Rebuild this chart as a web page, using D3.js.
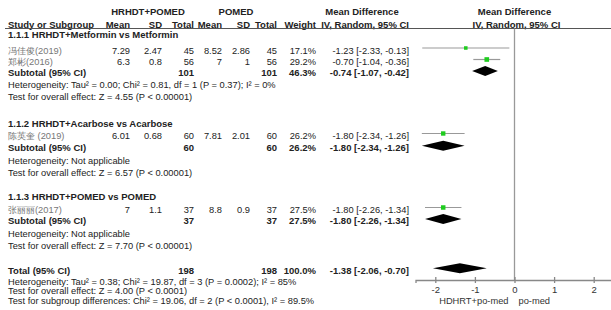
<!DOCTYPE html>
<html>
<head>
<meta charset="utf-8">
<script src="https://cdn.jsdelivr.net/npm/d3@7/dist/d3.min.js"></script>
<style>
body { margin: 0; background: #fff; }
text { font-family: "Liberation Sans", Arial, sans-serif; font-size: 9.3px; fill: #222; }
</style>
</head>
<body>
<svg id="chart" width="611" height="310"></svg>
<script>
// study level data
var studyNames = ["冯佳俊(2019)", "郑彬(2016)", "陈英奎 (2019)", "张丽丽(2017)"];
var expMean = [7.29, 6.3, 6.01, 7];
var expSD = [2.47, 0.8, 0.68, 1.1];
var expN = [45, 56, 60, 37];
var ctlMean = [8.52, 7, 7.81, 8.8];
var ctlSD = [2.86, 1, 2.01, 0.9];
var ctlN = [45, 56, 60, 37];
var weights = [17.1, 29.2, 26.2, 27.5];
var md = [-1.23, -0.70, -1.80, -1.80];
var mdLo = [-2.33, -1.04, -2.34, -2.26];
var mdHi = [-0.13, -0.36, -1.26, -1.34];

// subgroups
var groupTitles = ["1.1.1 HRHDT+Metformin vs Metformin", "1.1.2 HRHDT+Acarbose vs Acarbose", "1.1.3 HRHDT+POMED vs POMED"];
var subExpN = [101, 60, 37];
var subCtlN = [101, 60, 37];
var subWeight = [46.3, 26.2, 27.5];
var subMD = [-0.74, -1.80, -1.80];
var subLo = [-1.07, -2.34, -2.26];
var subHi = [-0.42, -1.26, -1.34];
var hetTexts = ["Heterogeneity: Tau² = 0.00; Chi² = 0.81, df = 1 (P = 0.37); I² = 0%", "Heterogeneity: Not applicable", "Heterogeneity: Not applicable"];
var effTexts = ["Test for overall effect: Z = 4.55 (P < 0.00001)", "Test for overall effect: Z = 6.57 (P < 0.00001)", "Test for overall effect: Z = 7.70 (P < 0.00001)"];

// overall
var totalExpN = 198, totalCtlN = 198, totalWeight = 100.0;
var totalMD = -1.38, totalLo = -2.06, totalHi = -0.70;
var totalTexts = ["Heterogeneity: Tau² = 0.38; Chi² = 19.87, df = 3 (P = 0.0002); I² = 85%",
                  "Test for overall effect: Z = 4.00 (P < 0.0001)",
                  "Test for subgroup differences: Chi² = 19.06, df = 2 (P < 0.0001), I² = 89.5%"];

var tickValues = [-2, -1, 0, 1, 2];
var favourLabels = ["HDHRT+po-med", "po-med"];

// row layout (text centre y)
var lines = [
    {t: "group", g: 0, y: 35},
    {t: "study", i: 0, y: 50.5},
    {t: "study", i: 1, y: 62},
    {t: "sub", g: 0, y: 73},
    {t: "note", s: hetTexts[0], y: 85},
    {t: "note", s: effTexts[0], y: 96.7},
    {t: "group", g: 1, y: 123.3},
    {t: "study", i: 2, y: 136},
    {t: "sub", g: 1, y: 147.7},
    {t: "note", s: hetTexts[1], y: 161},
    {t: "note", s: effTexts[1], y: 172.7},
    {t: "group", g: 2, y: 196.7},
    {t: "study", i: 3, y: 210},
    {t: "sub", g: 2, y: 221},
    {t: "note", s: hetTexts[2], y: 234},
    {t: "note", s: effTexts[2], y: 245.7},
    {t: "total", y: 270.7},
    {t: "note", s: totalTexts[0], y: 281.7},
    {t: "note", s: totalTexts[1], y: 291},
    {t: "note", s: totalTexts[2], y: 300.5}
];

var col = {name: 8, eMean: 130, eSD: 162, eN: 194, cMean: 222, cSD: 250, cN: 277, w: 316, ci: 409};

var svg = d3.select("#chart");
var x = d3.scaleLinear().domain([-2.5, 2.5]).range([415.5, 613.5]);
var size = d3.scaleSqrt().domain([0, 30]).range([0, 4.7]);
var axisY = 280;

function txt(xp, y, s, anchor, bold, color) {
    return svg.append("text")
        .attr("x", xp).attr("y", y).attr("dy", "0.35em")
        .attr("text-anchor", anchor || "start")
        .style("font-weight", bold ? "bold" : "normal")
        .style("font-size", bold ? "9.5px" : null)
        .style("fill", color || "#222")
        .text(s);
}
function ciText(m, l, h) {
    return m.toFixed(2) + " [" + l.toFixed(2) + ", " + h.toFixed(2) + "]";
}

// headers
txt(148, 12, "HRHDT+POMED", "middle", true);
txt(236, 12, "POMED", "middle", true);
txt(362, 12, "Mean Difference", "middle", true);
txt(x(0), 12, "Mean Difference", "middle", true);
txt(col.name, 24.5, "Study or Subgroup", "start", true);
txt(col.eMean, 24.5, "Mean", "end", true);
txt(col.eSD, 24.5, "SD", "end", true);
txt(col.eN, 24.5, "Total", "end", true);
txt(col.cMean, 24.5, "Mean", "end", true);
txt(col.cSD, 24.5, "SD", "end", true);
txt(col.cN, 24.5, "Total", "end", true);
txt(col.w, 24.5, "Weight", "end", true);
txt(col.ci, 24.5, "IV, Random, 95% CI", "end", true);
txt(x(0) + 2, 24.5, "IV, Random, 95% CI", "middle", true);

svg.append("line").attr("x1", 5).attr("x2", 611).attr("y1", 28.5).attr("y2", 28.5)
    .attr("stroke", "#555").attr("stroke-width", 1);

// zero line
svg.append("line").attr("x1", x(0)).attr("x2", x(0)).attr("y1", 28.5).attr("y2", axisY)
    .attr("stroke", "#999").attr("stroke-width", 1.3);

function diamond(y, m, l, h) {
    var pts = [[x(l), y], [x(m), y - 5], [x(h), y], [x(m), y + 5]];
    svg.append("path").attr("d", "M" + pts.join("L") + "Z").attr("fill", "#000");
}

lines.forEach(function (r) {
    if (r.t == "group") {
        txt(col.name, r.y, groupTitles[r.g], "start", true);
    } else if (r.t == "study") {
        var i = r.i;
        txt(col.name, r.y, studyNames[i], "start", false, "#777");
        txt(col.eMean, r.y, String(expMean[i]), "end");
        txt(col.eSD, r.y, String(expSD[i]), "end");
        txt(col.eN, r.y, String(expN[i]), "end");
        txt(col.cMean, r.y, String(ctlMean[i]), "end");
        txt(col.cSD, r.y, String(ctlSD[i]), "end");
        txt(col.cN, r.y, String(ctlN[i]), "end");
        txt(col.w, r.y, weights[i].toFixed(1) + "%", "end");
        txt(col.ci, r.y, ciText(md[i], mdLo[i], mdHi[i]), "end");
        var my = r.y - 2.5;
        svg.append("line").attr("x1", x(mdLo[i])).attr("x2", x(mdHi[i]))
            .attr("y1", my).attr("y2", my).attr("stroke", "#999").attr("stroke-width", 1.2);
        var s = size(weights[i]);
        svg.append("rect").attr("x", x(md[i]) - s / 2).attr("y", my - s / 2)
            .attr("width", s).attr("height", s).attr("fill", "#1fcc1f");
    } else if (r.t == "sub") {
        var g = r.g;
        txt(col.name, r.y, "Subtotal (95% CI)", "start", true);
        txt(col.eN, r.y, String(subExpN[g]), "end", true);
        txt(col.cN, r.y, String(subCtlN[g]), "end", true);
        txt(col.w, r.y, subWeight[g].toFixed(1) + "%", "end", true);
        txt(col.ci, r.y, ciText(subMD[g], subLo[g], subHi[g]), "end", true);
        diamond(r.y - 2, subMD[g], subLo[g], subHi[g]);
    } else if (r.t == "total") {
        txt(col.name, r.y, "Total (95% CI)", "start", true);
        txt(col.eN, r.y, String(totalExpN), "end", true);
        txt(col.cN, r.y, String(totalCtlN), "end", true);
        txt(col.w, r.y, totalWeight.toFixed(1) + "%", "end", true);
        txt(col.ci, r.y, ciText(totalMD, totalLo, totalHi), "end", true);
        diamond(r.y - 2.5, totalMD, totalLo, totalHi);
    } else {
        txt(col.name, r.y, r.s, "start");
    }
});

// axis
var ax = svg.append("g").attr("transform", "translate(0," + axisY + ")")
    .call(d3.axisBottom(x).tickValues(tickValues).tickSizeOuter(0).tickSize(3).tickFormat(d3.format("d")));
ax.select(".domain").attr("stroke", "#888").attr("stroke-width", 1.3);
ax.selectAll(".tick line").attr("y1", -3).attr("y2", 3).attr("stroke", "#888").attr("stroke-width", 1.3);
ax.selectAll(".tick text").style("font-size", "9.5px").style("fill", "#333")
    .style("font-family", "'Liberation Sans', Arial, sans-serif").text(function (d) { return d < 0 ? "-" + (-d) : d; });

txt(x(0) - 6, 300.5, favourLabels[0], "end", false, "#333");
txt(x(0) + 4, 300.5, favourLabels[1], "start", false, "#333");
</script>
</body>
</html>
